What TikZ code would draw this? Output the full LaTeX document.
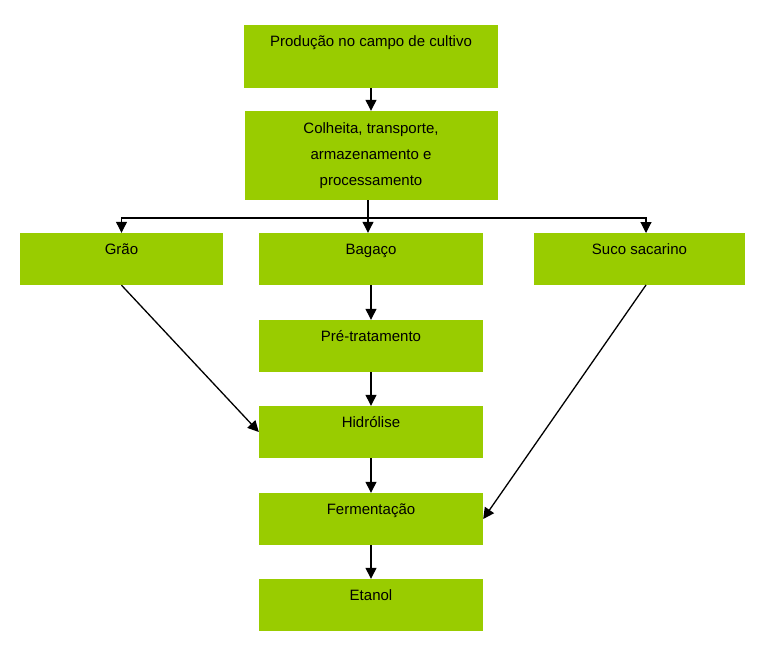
\documentclass[tikz,border=0pt]{standalone}
\usepackage{fontspec}
\setmainfont{Liberation Sans}
\usetikzlibrary{arrows.meta}
\definecolor{leaf}{HTML}{99CC00}
\tikzset{
  box/.style={fill=leaf, inner sep=0pt, minimum width=224pt, minimum height=52pt},
  txt/.style={anchor=base, inner sep=0pt, align=center, font=\fontsize{15}{26}\selectfont},
  flow/.style={-{Triangle[length=11pt,width=11pt]}, line width=1.3pt}
}

\begin{document}
\begin{tikzpicture}[x=1pt, y=-1pt]
\useasboundingbox (0,0) rectangle (769,646);

        % Top of the chain
        \node[box, minimum width=254pt, minimum height=63pt] (prod) at (371,56.5) {};
        \node[txt] (prodtxt) at ([yshift=-21.5pt]prod.north) {Produção no campo de cultivo};

        \node[box, minimum width=253pt, minimum height=89pt] (colh) at (371,155.5) {};
        \node[txt, anchor=north] (colhtxt) at ([yshift=-12pt]colh.north) {Colheita, transporte,\\armazenamento e\\processamento};

        % Three fractions
        \node[box, minimum width=203pt] (grao) at (121.5,259) {};
        \node[txt] (graotxt) at ([yshift=-21.5pt]grao.north) {Grão};

        \node[box] (bag) at (371,259) {};
        \node[txt] (bagtxt) at ([yshift=-21.5pt]bag.north) {Bagaço};

        \node[box, minimum width=211pt] (suco) at (639.5,259) {};
        \node[txt] (sucotxt) at ([yshift=-21.5pt]suco.north) {Suco sacarino};

        % Bagasse route
        \node[box] (pre) at (371,346) {};
        \node[txt] (pretxt) at ([yshift=-21.5pt]pre.north) {Pré-tratamento};

        \node[box] (hid) at (371,432) {};
        \node[txt] (hidtxt) at ([yshift=-21.5pt]hid.north) {Hidrólise};

        \node[box] (fer) at (371,519) {};
        \node[txt] (fertxt) at ([yshift=-21.5pt]fer.north) {Fermentação};

        \node[box] (eta) at (371,605) {};
        \node[txt] (etatxt) at ([yshift=-21.5pt]eta.north) {Etanol};

        % Arrows
        \coordinate (split) at (368,218);
        \coordinate (sucoin) at (646,233);
        \coordinate (sucoout) at (646,285);

        \draw[flow] (prod.south) -- (colh.north);
        \draw[line width=1.1pt] (colh.south -| split) -- (split);
        \draw[flow, line width=1.1pt] (split) -| (grao.north);
        \draw[flow, line width=1.1pt] (split) -- (bag.north -| split);
        \draw[flow, line width=1.1pt] (split) -| (sucoin);

        \draw[flow] (bag.south) -- (pre.north);
        \draw[flow] (pre.south) -- (hid.north);
        \draw[flow] (hid.south) -- (fer.north);
        \draw[flow] (fer.south) -- (eta.north);

        \draw[flow] (grao.south) -- (hid.west);
        \draw[flow] (sucoout) -- (fer.east);

\end{tikzpicture}
\end{document}
